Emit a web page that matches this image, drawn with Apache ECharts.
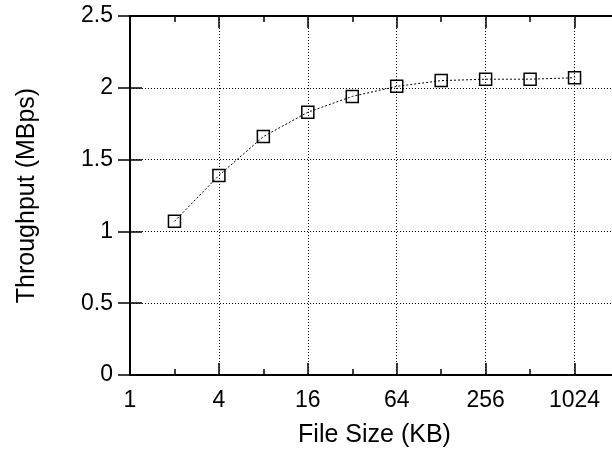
<!DOCTYPE html>
<html>
<head>
<meta charset="utf-8">
<script src="https://cdn.jsdelivr.net/npm/echarts@6/dist/echarts.min.js"></script>
<style>
  html, body { margin: 0; padding: 0; background: #fff; }
  #main { width: 612px; height: 455px; }
</style>
</head>
<body>
<div id="main"></div>
<script>
// file sizes in KB and measured throughput in MBps
const fileSizes = [2, 4, 8, 16, 32, 64, 128, 256, 512, 1024];
const throughput = [1.07, 1.39, 1.66, 1.83, 1.94, 2.01, 2.05, 2.06, 2.06, 2.07];
const yTicks = [0, 0.5, 1, 1.5, 2, 2.5];

const font = 'Liberation Sans, Arial, sans-serif';
const dotted = { color: '#000', width: 1, type: [1, 2] };

let chart = echarts.init(document.getElementById('main'));

// log axis (base 4) carries labels + grid, helper value axis (log2 units) carries the minor ticks
function majorX(pos, withLabels) {
  return {
    type: 'log',
    logBase: 4,
    min: 1,
    max: 2048,
    position: pos,
    axisLine: { show: true, lineStyle: { color: '#000', width: 2 } },
    axisTick: { show: true, inside: true, length: 12, lineStyle: { color: '#000', width: 1.5 } },
    axisLabel: {
      show: withLabels, showMaxLabel: false, margin: 14,
      color: '#000', fontSize: 23, fontFamily: font,
      formatter: v => String(Math.round(v))
    },
    splitLine: { show: withLabels, lineStyle: dotted },
    name: withLabels ? 'File Size (KB)' : '',
    nameLocation: 'middle',
    nameGap: 48,
    nameTextStyle: { color: '#000', fontSize: 25, fontFamily: font }
  };
}
function minorX(pos) {
  return {
    type: 'value',
    min: 0,
    max: 11,
    interval: 1,
    position: pos,
    axisLine: { show: false },
    axisTick: { show: true, inside: true, length: 6, lineStyle: { color: '#000', width: 1.5 } },
    axisLabel: { show: false },
    splitLine: { show: false }
  };
}
function yAx(pos, withLabels) {
  return {
    type: 'value',
    min: yTicks[0],
    max: yTicks[yTicks.length - 1],
    interval: 0.5,
    position: pos,
    axisLine: { show: true, lineStyle: { color: '#000', width: 2 } },
    axisTick: { show: true, inside: true, length: 12, lineStyle: { color: '#000', width: 1.5 } },
    axisLabel: { show: withLabels, margin: 17, color: '#000', fontSize: 23, fontFamily: font },
    splitLine: { show: withLabels, lineStyle: dotted },
    name: withLabels ? 'Throughput (MBps)' : '',
    nameLocation: 'middle',
    nameRotate: 90,
    nameGap: 90,
    nameTextStyle: { color: '#000', fontSize: 25, fontFamily: font }
  };
}

chart.setOption({
  animation: false,
  backgroundColor: '#fff',
  grid: { left: 130, top: 16, right: -7, bottom: 80, containLabel: false, outerBoundsMode: 'none' },
  xAxis: [majorX('bottom', true), minorX('bottom'), majorX('top', false), minorX('top')],
  yAxis: [yAx('left', true), yAx('right', false)],
  series: [{
    type: 'line',
    xAxisIndex: 0,
    yAxisIndex: 0,
    data: fileSizes.map((s, i) => [s, throughput[i]]),
    symbol: 'rect',
    symbolSize: 12,
    itemStyle: { color: 'rgba(0,0,0,0)', borderColor: '#000', borderWidth: 1.5 },
    lineStyle: { color: '#000', width: 1, type: [2, 2] }
  }]
});
</script>
</body>
</html>
